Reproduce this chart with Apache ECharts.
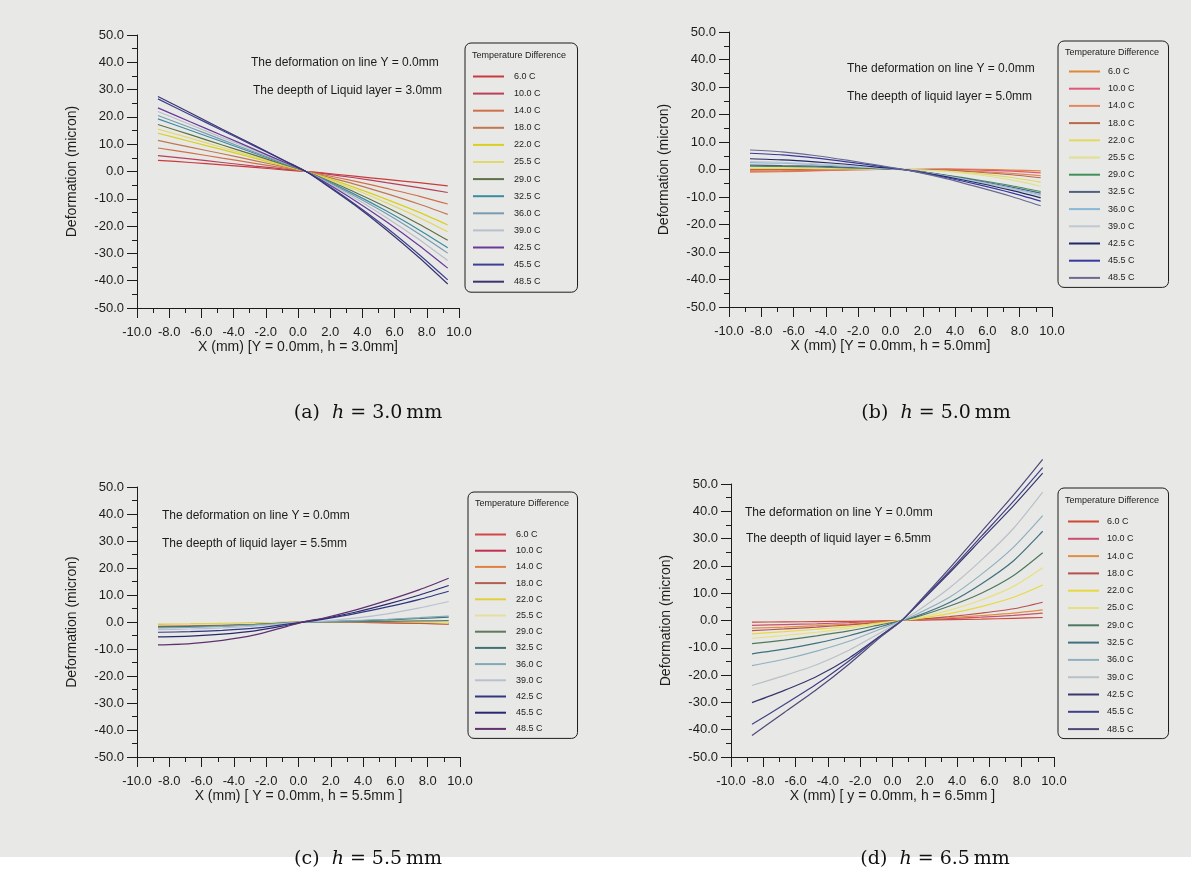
<!DOCTYPE html>
<html><head><meta charset="utf-8">
<script src="https://cdn.jsdelivr.net/npm/echarts@6/dist/echarts.min.js"></script>
<style>html,body{margin:0;padding:0;background:#fff}#c{width:1191px;height:873px}</style>
</head><body><div id="c"></div>
<script>
// ---------- data ----------
const xPos = [-8.7, -6.7, -4.7, -2.7, -0.7, 0.5, 1.5, 3.5, 5.5, 7.5, 9.3];
const tempsABC = ['6.0 C','10.0 C','14.0 C','18.0 C','22.0 C','25.5 C','29.0 C','32.5 C','36.0 C','39.0 C','42.5 C','45.5 C','48.5 C'];
const tempsD   = ['6.0 C','10.0 C','14.0 C','18.0 C','22.0 C','25.0 C','29.0 C','32.5 C','36.0 C','39.0 C','42.5 C','45.5 C','48.5 C'];

// (a) h = 3.0 mm
const defA = [
 [4.1, 3.3, 2.4, 1.5, 0.5, 0.0, -0.5, -1.7, -2.9, -4.1, -5.3],
 [5.8, 4.6, 3.3, 2.0, 0.8, 0.0, -0.7, -2.3, -4.1, -5.9, -7.7],
 [8.6, 6.8, 4.9, 3.0, 1.1, 0.0, -1.1, -3.5, -6.2, -9.0, -11.9],
 [11.4, 8.9, 6.5, 4.0, 1.5, 0.0, -1.5, -4.6, -8.1, -11.9, -15.7],
 [14.0, 11.0, 8.0, 4.9, 1.8, 0.0, -1.8, -5.8, -10.2, -14.9, -19.6],
 [15.5, 12.2, 8.8, 5.4, 2.0, 0.0, -2.1, -6.5, -11.5, -16.8, -22.1],
 [17.2, 13.5, 9.7, 6.0, 2.2, 0.0, -2.4, -7.5, -13.1, -19.2, -25.2],
 [19.3, 15.1, 10.9, 6.7, 2.5, 0.0, -2.6, -8.3, -14.5, -21.3, -27.9],
 [20.5, 16.1, 11.6, 7.1, 2.7, 0.0, -2.8, -8.9, -15.5, -22.8, -29.9],
 [22.0, 17.2, 12.4, 7.7, 2.9, 0.0, -3.1, -9.6, -16.9, -24.8, -32.6],
 [23.3, 18.2, 13.2, 8.1, 3.0, 0.0, -3.3, -10.5, -18.4, -27.0, -35.4],
 [26.6, 20.8, 15.0, 9.3, 3.5, 0.0, -3.7, -11.8, -20.6, -30.3, -39.7],
 [27.5, 21.5, 15.5, 9.6, 3.6, 0.0, -3.9, -12.2, -21.4, -31.4, -41.2]
];
// (b) h = 5.0 mm
const defB = [
 [-1.0, -0.8, -0.5, -0.2, 0.0, 0.0, 0.1, 0.2, 0.1, -0.2, -0.5],
 [-0.6, -0.5, -0.3, -0.1, 0.0, 0.0, 0.0, 0.1, -0.2, -0.6, -1.2],
 [-0.3, -0.2, -0.1, 0.0, 0.0, 0.0, 0.0, -0.2, -0.7, -1.4, -2.2],
 [0.0, 0.0, 0.1, 0.1, 0.0, 0.0, 0.0, -0.3, -1.0, -1.9, -3.0],
 [0.4, 0.4, 0.3, 0.2, 0.1, 0.0, -0.1, -0.6, -1.5, -2.9, -4.6],
 [0.9, 0.8, 0.6, 0.4, 0.2, 0.0, -0.1, -0.7, -2.0, -3.8, -6.1],
 [1.2, 1.1, 0.9, 0.6, 0.3, 0.0, -0.5, -2.1, -3.9, -5.9, -8.0],
 [1.6, 1.4, 1.2, 0.8, 0.3, 0.1, -0.5, -2.2, -4.2, -6.4, -8.6],
 [2.5, 2.3, 1.8, 1.2, 0.5, 0.1, -0.6, -2.4, -4.5, -6.8, -9.2],
 [2.9, 2.6, 2.1, 1.4, 0.6, 0.1, -0.6, -2.5, -4.7, -7.1, -9.6],
 [3.9, 3.5, 2.8, 1.9, 0.8, 0.2, -0.6, -2.7, -5.0, -7.6, -10.3],
 [5.9, 5.3, 4.2, 2.8, 1.2, 0.2, -0.7, -3.0, -5.6, -8.5, -11.5],
 [7.1, 6.4, 5.1, 3.4, 1.5, 0.3, -0.8, -3.4, -6.5, -9.8, -13.2]
];
// (c) h = 5.5 mm
const defC = [
 [-1.2, -1.1, -0.8, -0.5, -0.2, 0.0, 0.0, -0.1, -0.3, -0.5, -0.7],
 [-1.6, -1.4, -1.1, -0.7, -0.2, 0.0, 0.0, 0.1, 0.0, -0.1, -0.3],
 [-1.0, -0.9, -0.7, -0.4, -0.1, 0.0, 0.1, 0.1, -0.1, -0.3, -0.6],
 [-1.5, -1.3, -1.0, -0.6, -0.2, 0.0, 0.0, 0.0, -0.2, -0.4, -0.8],
 [-0.8, -0.7, -0.5, -0.3, -0.1, 0.0, 0.1, 0.2, 0.1, -0.1, -0.5],
 [-1.2, -1.0, -0.8, -0.5, -0.2, 0.0, 0.0, 0.2, 0.3, 0.1, -0.2],
 [-1.8, -1.6, -1.3, -0.9, -0.3, 0.0, 0.0, 0.1, 0.2, 0.4, 0.5],
 [-2.0, -1.8, -1.5, -1.0, -0.3, 0.0, 0.1, 0.4, 0.8, 1.3, 1.8],
 [-2.2, -2.0, -1.6, -1.1, -0.4, 0.0, 0.1, 0.5, 1.0, 1.6, 2.2],
 [-2.8, -2.6, -2.2, -1.5, -0.5, 0.1, 0.3, 1.4, 3.0, 5.2, 7.6],
 [-3.8, -3.6, -3.1, -2.3, -0.8, 0.1, 1.0, 3.1, 5.6, 8.4, 11.4],
 [-5.5, -5.2, -4.5, -3.3, -1.2, 0.2, 1.2, 3.6, 6.6, 10.0, 13.5],
 [-8.5, -8.0, -6.8, -4.8, -1.6, 0.3, 1.4, 4.4, 8.0, 12.0, 16.2]
];
// (d) h = 6.5 mm
const defD = [
 [-0.6, -0.5, -0.4, -0.3, -0.1, 0.0, 0.1, 0.3, 0.5, 0.8, 1.1],
 [-1.8, -1.5, -1.2, -0.8, -0.3, 0.0, 0.2, 0.7, 1.2, 1.9, 2.7],
 [-2.8, -2.4, -1.9, -1.3, -0.5, 0.0, 0.3, 1.0, 1.8, 2.7, 3.9],
 [-3.7, -3.1, -2.4, -1.6, -0.6, 0.0, 0.4, 1.4, 2.7, 4.3, 6.7],
 [-4.9, -4.1, -3.2, -2.2, -0.8, 0.0, 0.6, 2.5, 5.1, 8.5, 13.0],
 [-6.5, -5.5, -4.3, -2.9, -1.1, 0.0, 0.9, 3.7, 7.5, 12.5, 19.3],
 [-8.5, -7.2, -5.6, -3.8, -1.5, -0.1, 1.3, 5.2, 10.0, 16.5, 24.8],
 [-12.2, -10.5, -8.3, -5.6, -2.2, -0.1, 1.6, 6.5, 13.4, 21.9, 32.7],
 [-16.5, -14.2, -11.2, -7.6, -3.0, -0.2, 2.3, 8.4, 16.9, 26.9, 38.4],
 [-23.8, -20.2, -16.2, -10.9, -4.3, -0.2, 3.3, 11.8, 22.1, 33.8, 47.0],
 [-30.1, -25.6, -20.5, -13.8, -5.4, -0.3, 5.4, 17.3, 29.7, 42.1, 54.0],
 [-38.0, -30.8, -23.3, -14.8, -5.5, -0.4, 5.6, 17.9, 30.8, 43.7, 56.0],
 [-42.1, -33.7, -25.3, -16.0, -5.9, -0.4, 5.9, 18.9, 32.5, 46.0, 59.0]
];

const xNames = ['X (mm) [Y = 0.0mm, h = 3.0mm]', 'X (mm) [Y = 0.0mm, h = 5.0mm]', 'X (mm) [ Y = 0.0mm, h = 5.5mm ]', 'X (mm) [ y = 0.0mm, h = 6.5mm ]'];
const noteLine1 = ['The deformation on line Y = 0.0mm','The deformation on line Y = 0.0mm','The deformation on line Y = 0.0mm','The deformation on line Y = 0.0mm'];
const noteLine2 = ['The deepth of Liquid layer = 3.0mm','The deepth of liquid layer = 5.0mm','The deepth of liquid layer = 5.5mm','The deepth of liquid layer = 6.5mm'];
const captionTag = ['(a)','(b)','(c)','(d)'];
const captionVal = ['3.0','5.0','5.5','6.5'];

// ---------- styles / layout ----------
const FONT = '"Liberation Sans", Arial, sans-serif';
const INK = '#1c1c1c';
const palettes = [
 ['#c83c3c','#b8405a','#d0704a','#c07850','#d8d020','#e0d870','#5f7048','#3a8ca0','#7a9cb0','#b8c0c8','#6a3a9a','#3c4090','#3a3470'],
 ['#e08838','#e05878','#e08860','#b86848','#e2da60','#e0e090','#40905a','#506080','#88b8d8','#c0c8d0','#202868','#3838a0','#6a6a90'],
 ['#d04848','#c03050','#e08040','#b06050','#e0d040','#e6dea0','#607860','#407070','#80a8b8','#b8c0d0','#303880','#282870','#603070'],
 ['#d04838','#c85070','#e09040','#b85050','#e8d840','#e8e080','#507860','#407080','#90b0c0','#b8c0c8','#383870','#404088','#504878']
];
const grids = [
 {left:137, top:35, width:322, height:273},
 {left:729, top:32, width:323, height:275},
 {left:137, top:487, width:323, height:270},
 {left:731, top:484, width:323, height:273}
];
const legendPos = [
 {left:465, top:43, padding:[29, 37, 6, 7], itemGap:8.1, textPad:5},
 {left:1058, top:41, padding:[26, 34, 5, 10], itemGap:8.2, textPad:3},
 {left:468, top:492, padding:[38, 35, 5, 6], itemGap:7.2, textPad:5},
 {left:1058, top:488, padding:[29, 35, 5, 9], itemGap:8.3, textPad:3}
];
const legendTitlePos = [[472,56],[1065,53],[475,504],[1065,501]];
const notePos = [[251,63,253,91],[847,69,847,97],[162,516,162,544],[745,513,746,539]];
const captionPos = [[368,413],[936,413],[368,859],[935,859]];

const panelData = [defA, defB, defC, defD];
const panelTemps = [tempsABC, tempsABC, tempsABC, tempsD];

const chart = echarts.init(document.getElementById('c'), null, {renderer:'canvas'});

const xAxis = [], yAxis = [], series = [], legend = [], graphic = [];
graphic.push({type:'rect', shape:{x:0, y:0, width:1191, height:857}, style:{fill:'#e8e8e6'}, z:-100, silent:true});

for (let p = 0; p < 4; p++) {
  xAxis.push({
    gridIndex:p, type:'value', min:-10, max:10, interval:2,
    axisLine:{onZero:false, lineStyle:{color:INK, width:1}},
    axisTick:{length:10, lineStyle:{color:INK}},
    minorTick:{show:true, splitNumber:2, length:5, lineStyle:{color:INK}},
    splitLine:{show:false}, minorSplitLine:{show:false},
    axisLabel:{interval:0, formatter:v=>v.toFixed(1), margin:18, fontSize:13, color:INK, fontFamily:FONT},
    name:xNames[p], nameLocation:'middle', nameGap:32,
    nameTextStyle:{fontSize:14, color:INK, fontFamily:FONT}
  });
  yAxis.push({
    gridIndex:p, type:'value', min:-50, max:50, interval:10,
    axisLine:{onZero:false, lineStyle:{color:INK, width:1}},
    axisTick:{length:10, lineStyle:{color:INK}},
    minorTick:{show:true, splitNumber:2, length:5, lineStyle:{color:INK}},
    splitLine:{show:false}, minorSplitLine:{show:false},
    axisLabel:{interval:0, formatter:v=>v.toFixed(1), margin:13, fontSize:13, color:INK, fontFamily:FONT},
    name:'Deformation (micron)', nameLocation:'middle', nameGap:58, nameRotate:90,
    nameTextStyle:{fontSize:14, color:INK, fontFamily:FONT}
  });
  const names = [];
  panelData[p].forEach((vals, k) => {
    const nm = 'p' + p + ':' + panelTemps[p][k];
    names.push(nm);
    const col = palettes[p][k];
    series.push({
      type:'line', name:nm, xAxisIndex:p, yAxisIndex:p,
      data:xPos.map((x,i)=>[x, vals[i]]),
      symbol:'none', smooth:0.25, clip:false,
      lineStyle:{width:1.2, color:col}, itemStyle:{color:col},
      emphasis:{disabled:true}, z:2+k
    });
  });
  const lp = legendPos[p];
  legend.push({
    data:names, orient:'vertical', left:lp.left, top:lp.top, padding:lp.padding,
    itemGap:lp.itemGap, itemWidth:31, itemHeight:10,
    itemStyle:{opacity:0},
    borderColor:INK, borderWidth:1, borderRadius:6, backgroundColor:'transparent',
    formatter:n=>n.split(':')[1], selectedMode:false,
    textStyle:{fontSize:9, color:INK, fontFamily:FONT, padding:[0,0,0,lp.textPad]}
  });
  graphic.push({type:'text', x:legendTitlePos[p][0], y:legendTitlePos[p][1],
    style:{text:'Temperature Difference', font:'9px ' + FONT, fill:INK, textVerticalAlign:'middle'}});
  graphic.push({type:'text', x:notePos[p][0], y:notePos[p][1],
    style:{text:noteLine1[p], font:'12px ' + FONT, fill:INK, textVerticalAlign:'middle'}});
  graphic.push({type:'text', x:notePos[p][2], y:notePos[p][3],
    style:{text:noteLine2[p], font:'12px ' + FONT, fill:INK, textVerticalAlign:'middle'}});
  graphic.push({type:'text', x:captionPos[p][0], y:captionPos[p][1],
    style:{text:captionTag[p] + '  {i|h} = ' + captionVal[p] + '\u2009mm',
      font:'19px "DejaVu Serif", "Liberation Serif", serif', fill:'#111',
      textAlign:'center', textVerticalAlign:'middle',
      rich:{i:{fontStyle:'italic', fontFamily:'"DejaVu Serif", serif', fontSize:19, fill:'#111'}}}});
}

chart.setOption({
  backgroundColor:'#ffffff',
  animation:false,
  grid:grids,
  xAxis, yAxis, series, legend, graphic
});
</script></body></html>
